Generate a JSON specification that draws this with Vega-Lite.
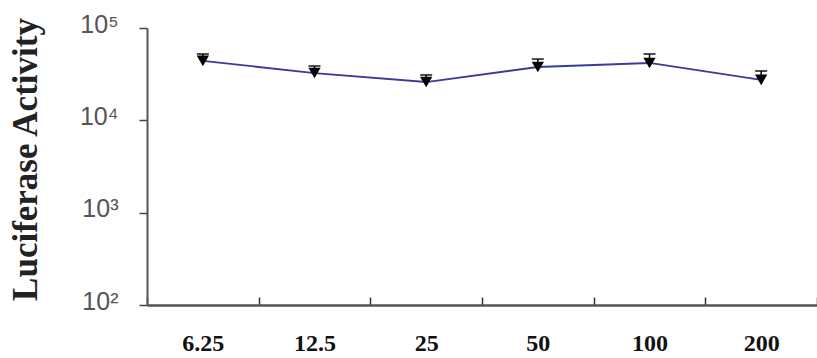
{
  "$schema": "https://vega.github.io/schema/vega-lite/v6.json",
  "autosize": {"type": "none"},
  "width": 670,
  "height": 277,
  "padding": {"left": 147, "top": 28, "right": 0, "bottom": 53},
  "background": "white",
  "config": {"view": {"stroke": null}},
  "data": {
    "values": [
      {"conc": "6.25", "value": 44000, "upper": 52300},
      {"conc": "12.5", "value": 32500, "upper": 38700},
      {"conc": "25", "value": 26000, "upper": 31000},
      {"conc": "50", "value": 37800, "upper": 46100},
      {"conc": "100", "value": 41800, "upper": 52300},
      {"conc": "200", "value": 27400, "upper": 34200}
    ]
  },
  "encoding": {
    "x": {
      "field": "conc",
      "type": "nominal",
      "sort": null,
      "scale": {"paddingInner": 0, "paddingOuter": 0},
      "axis": {
        "title": null,
        "labelAngle": 0,
        "labelFont": "Liberation Serif",
        "labelFontWeight": "bold",
        "labelFontSize": 24,
        "labelColor": "#111111",
        "labelPadding": 34,
        "tickBand": "extent",
        "tickSize": -8,
        "tickColor": "#333333",
        "tickWidth": 1.5,
        "domainColor": "#555555",
        "domainWidth": 2.5,
        "grid": false
      }
    }
  },
  "layer": [
    {
      "mark": {"type": "line", "color": "#3a3a9e", "strokeWidth": 1.8},
      "encoding": {
        "y": {
          "field": "value",
          "type": "quantitative",
          "scale": {"type": "log", "domain": [100, 100000], "nice": false},
          "axis": {
            "title": "Luciferase Activity",
            "titleFont": "Liberation Serif",
            "titleFontWeight": "bold",
            "titleFontSize": 35,
            "titleColor": "#222222",
            "titleX": -111,
            "titleY": 131,
            "titleAngle": -90,
            "titleAlign": "center",
            "titleBaseline": "alphabetic",
            "values": [100, 1000, 10000, 100000],
            "labelExpr": "datum.value == 100000 ? '10⁵' : datum.value == 10000 ? '10⁴' : datum.value == 1000 ? '10³' : '10²'",
            "labelFont": "Liberation Sans",
            "labelFontSize": 25,
            "labelColor": "#555555",
            "labelPadding": 21,
            "labelOffset": -4,
            "tickSize": 8,
            "tickColor": "#444444",
            "tickWidth": 1.5,
            "domainColor": "#555555",
            "domainWidth": 2,
            "grid": false
          }
        }
      }
    },
    {
      "mark": {"type": "rule", "color": "black", "strokeWidth": 1.5},
      "encoding": {
        "y": {"field": "value", "type": "quantitative"},
        "y2": {"field": "upper"}
      }
    },
    {
      "mark": {"type": "tick", "color": "black", "size": 12, "thickness": 2},
      "encoding": {
        "y": {"field": "upper", "type": "quantitative"}
      }
    },
    {
      "mark": {"type": "point", "shape": "triangle-down", "filled": true, "color": "black", "size": 150, "opacity": 1},
      "encoding": {
        "y": {"field": "value", "type": "quantitative"}
      }
    }
  ]
}
